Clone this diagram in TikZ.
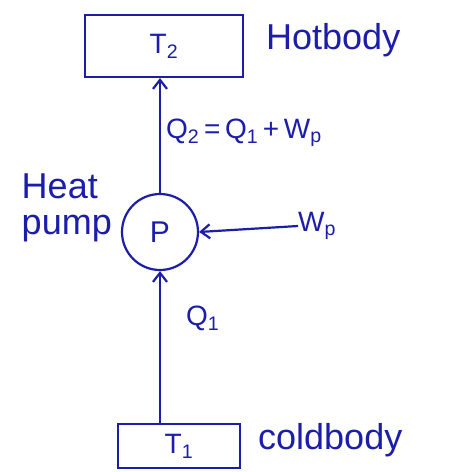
\documentclass[tikz,border=0pt]{standalone}
\usepackage{fontspec}
\setmainfont{Liberation Sans}
\usetikzlibrary{positioning,arrows.meta}
\definecolor{ink}{RGB}{28,30,170}

\begin{document}
\begin{tikzpicture}[x=1pt, y=-1pt,
  body/.style={draw=ink, line width=2.2pt, text=ink, minimum width=158pt, minimum height=62pt, font=\fontsize{28}{30}\selectfont},
  pump/.style={draw=ink, line width=2.2pt, circle, text=ink, minimum size=76pt, font=\fontsize{30}{32}\selectfont},
  lbl/.style={text=ink, font=\fontsize{36}{36}\selectfont, inner sep=0pt},
  qlbl/.style={text=ink, font=\fontsize{28}{30}\selectfont, inner sep=0pt},
  arr/.style={-{Straight Barb[length=9pt, width=14pt]}, line width=2.2pt, draw=ink}
]
\fill[white] (0,0) rectangle (469,472);
\useasboundingbox (0,0) rectangle (469,472);
\node[body] (hot) at (164,46) {T\textsubscript{2}};
\node[lbl, anchor=west] (hotlbl) at (266,40) {Hotbody};
\node[pump] (p) at (160,232) {P};
\node[lbl, align=left, anchor=east] (pumplbl) at (112,208) {Heat\\pump};
\node[body, minimum width=122pt, minimum height=44pt] (cold) at (179,446) {T\textsubscript{1}};
\node[lbl, anchor=west] (coldlbl) at (258,440) {coldbody};
\node[qlbl, anchor=west] (wp) at (298,226) {W\textsubscript{p}};
\node[qlbl, anchor=west] (q2) at (166,133) {Q\textsubscript{2}\,=\,Q\textsubscript{1}\,+\,W\textsubscript{p}};
\node[qlbl, anchor=west] (q1) at (186,318) {Q\textsubscript{1}};
\draw[arr] (p.north) -- (p.north |- hot.south);
\draw[arr] (p |- cold.north) -- (p.south);
\draw[arr] (wp.west) -- (p.east);
\end{tikzpicture}
\end{document}
